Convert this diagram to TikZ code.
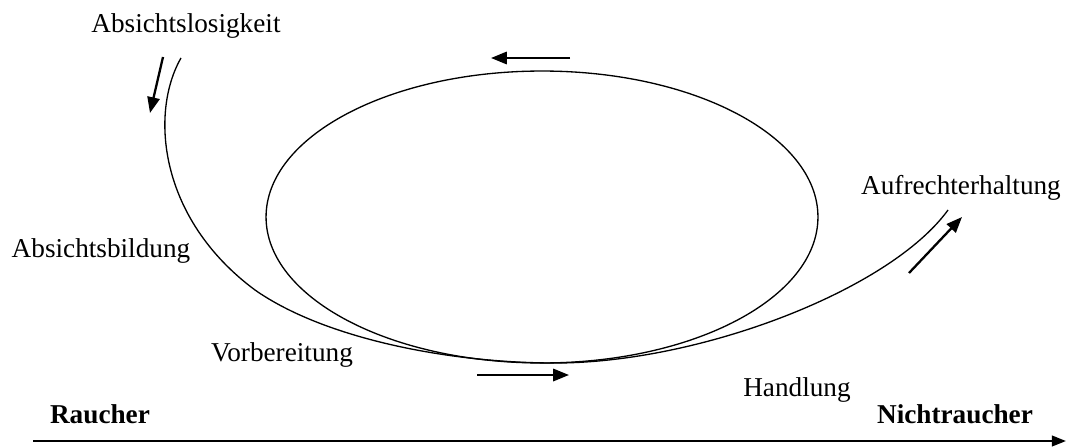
\documentclass[tikz,border=0pt]{standalone}
\usepackage{fontspec}
\setmainfont{Liberation Serif}
\usetikzlibrary{arrows.meta,shapes.geometric}
\begin{document}
\begin{tikzpicture}[x=0.02cm,y=-0.02cm,
  lbl/.style={inner sep=0pt,font=\fontsize{15.5}{18}\selectfont},
  blbl/.style={inner sep=0pt,font=\fontsize{15.5}{18}\selectfont\bfseries},
  thincurve/.style={line width=0.75pt},
  dirarrow/.style={line width=1.3pt,-{Triangle[length=9pt,width=7pt]}},
  axisarrow/.style={line width=1.2pt,-{Triangle[length=8pt,width=6pt]}}]
\useasboundingbox (0,0) rectangle (1067,446);
% ellipse
\node[thincurve,draw,ellipse,inner sep=0pt,minimum width=11.04cm,minimum height=5.84cm] (cycle) at (542,217) {};
% main curve
\coordinate (cs) at (181,58);
\coordinate (cm1) at (255,290);
\coordinate (cb) at (555,363);
\coordinate (ce) at (948,210);
\draw[thincurve] (cs) .. controls (150,112) and (158,218) .. (cm1)
  .. controls (325,339) and (450,363) .. (cb)
  .. controls (700,363) and (890,290) .. (ce);
% direction arrows
\coordinate (a1s) at (163,57); \coordinate (a1e) at (150,113);
\coordinate (a2s) at (570,58); \coordinate (a2e) at (491,58);
\coordinate (a3s) at (477,375); \coordinate (a3e) at (569,375);
\coordinate (a4s) at (909,273); \coordinate (a4e) at (962,217);
\draw[dirarrow] (a1s) -- (a1e);
\draw[dirarrow] (a2s) -- (a2e);
\draw[dirarrow] (a3s) -- (a3e);
\draw[dirarrow] (a4s) -- (a4e);
% axis
\coordinate (xs) at (33,441); \coordinate (xe) at (1066,441);
\draw[axisarrow] (xs) -- (xe);
% labels
\node[lbl] (l1) at (186,26) {Absichtslosigkeit};
\node[lbl] (l2) at (101,251) {Absichtsbildung};
\node[lbl] (l3) at (282,355) {Vorbereitung};
\node[lbl] (l4) at (797,390) {Handlung};
\node[lbl] (l5) at (961,188) {Aufrechterhaltung};
\node[blbl] (r1) at (100,414) {Raucher};
\node[blbl] (r2) at (955,414) {Nichtraucher};
\end{tikzpicture}
\end{document}
